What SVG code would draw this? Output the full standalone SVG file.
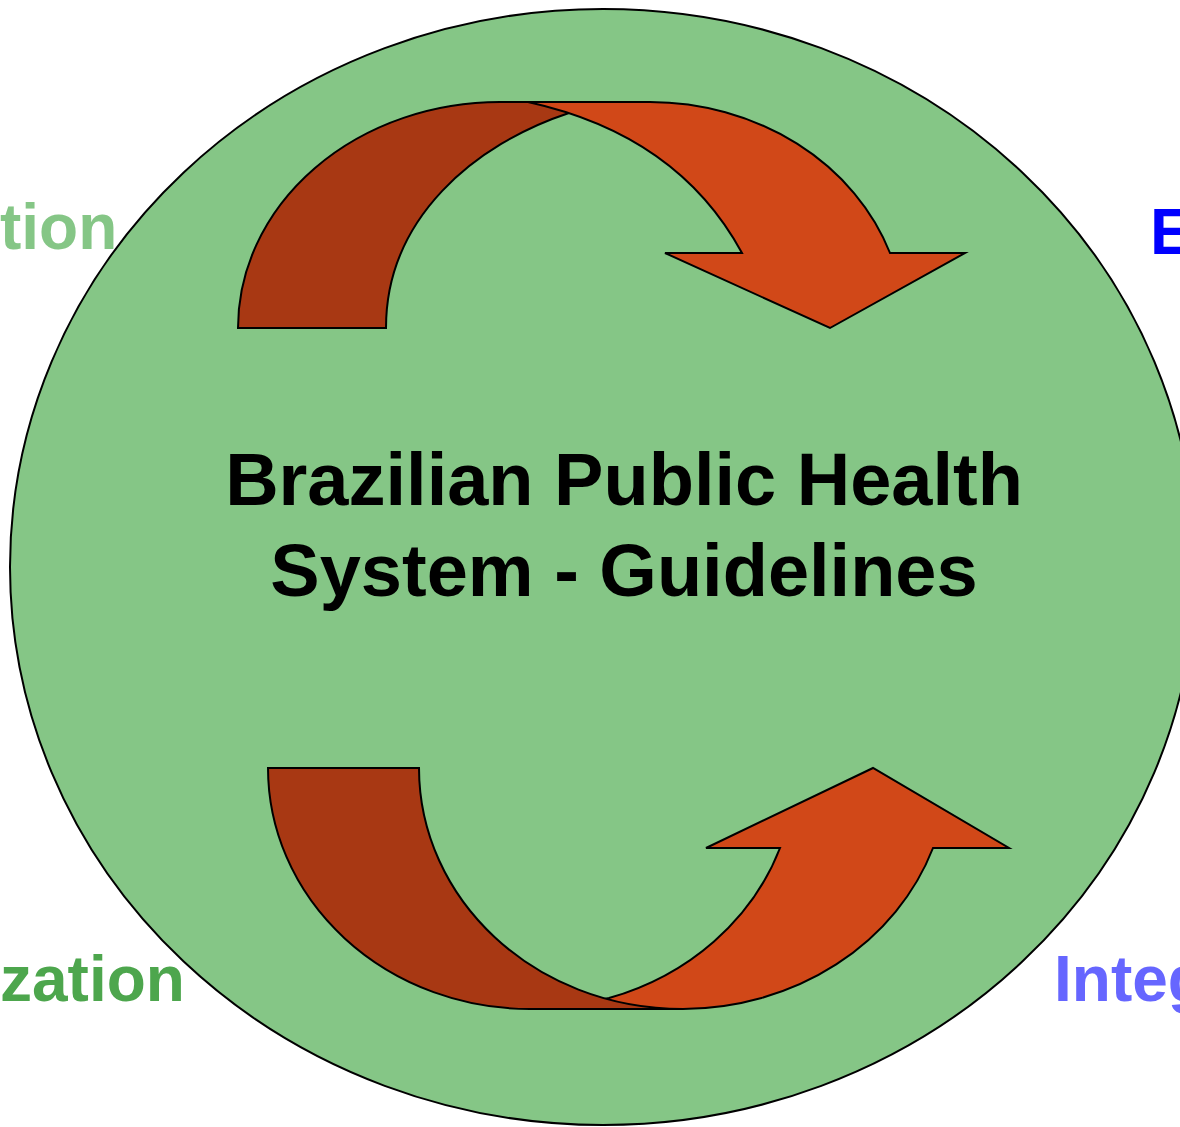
<svg xmlns="http://www.w3.org/2000/svg" width="1180" height="1127" viewBox="0 0 1180 1127">
<style>
.lbl{font-family:"Liberation Sans",Arial,sans-serif;font-weight:bold;font-size:64px}
.title{font-family:"Liberation Sans",Arial,sans-serif;font-weight:bold;font-size:74px;fill:#000;text-anchor:middle}
.back{fill:#A83813;stroke:#000;stroke-width:2;stroke-linejoin:miter}
.front{fill:#D14818;stroke:#000;stroke-width:2;stroke-linejoin:miter}
</style>
<rect width="1180" height="1127" fill="#fff"/>
<g id="labels">
<text class="lbl" x="0" y="249" fill="#85C686">tion</text>
<text class="lbl" x="0" y="1001" fill="#4DA64D">zation</text>
<text class="lbl" x="1150" y="254" fill="#0000FF">E</text>
<text class="lbl" x="1054" y="1001" fill="#6666FF">Integ</text>
</g>
<g id="circle">
<ellipse cx="603" cy="567" rx="593" ry="558" fill="#85C686" stroke="#000" stroke-width="2"/>
</g>
<g id="arrow-top">
<path class="back" d="M238,328 A262,226 0 0 1 500,102 L560,102 L569,113 C475,144 386,218 386,328 Z"/>
<path class="front" d="M528,102 L650,102 A255,226 0 0 1 890,253 L965,253 L830,328 L665,253 L742,253 C704,183 637,126 528,102 Z"/>
</g>
<g id="arrow-bottom">
<path class="front" d="M560,1009 L683,1009 A266,241 0 0 0 933,848 L1009,848 L873,768 L706,848 L780,848 A265,241 0 0 1 609,998 Z"/>
<path class="back" d="M268,768 L419,768 C419,898 533,1009 683,1009 L530,1009 A262,241 0 0 1 268,768 Z"/>
</g>
<g id="title">
<text class="title" x="624" y="505">Brazilian Public Health</text>
<text class="title" x="624" y="596">System - Guidelines</text>
</g>
</svg>
